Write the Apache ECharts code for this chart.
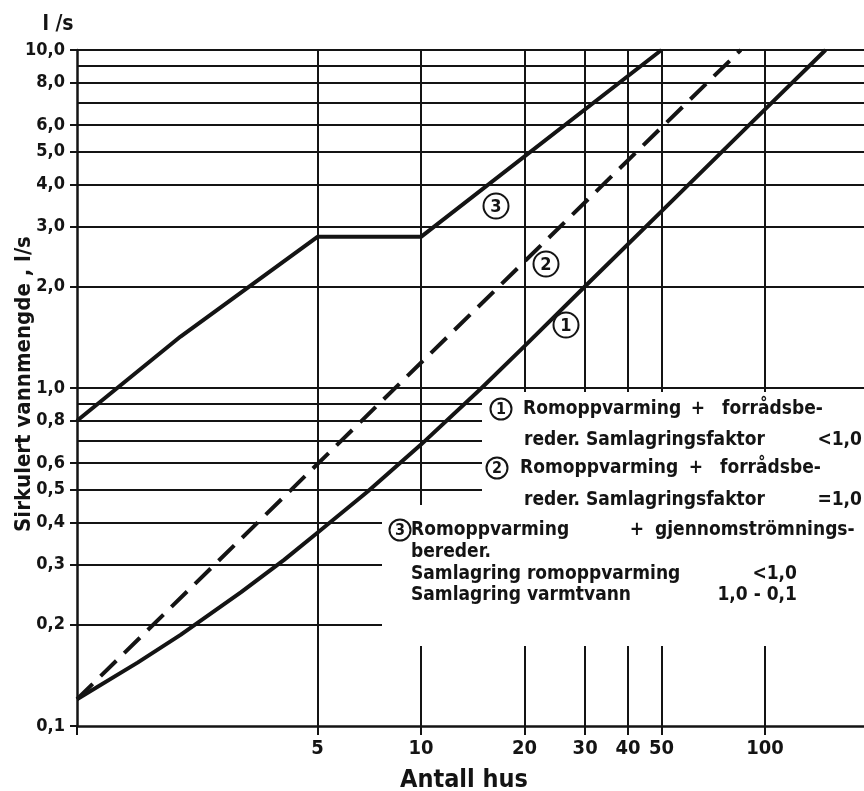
<!DOCTYPE html>
<html>
<head>
<meta charset="utf-8">
<script src="https://cdn.jsdelivr.net/npm/echarts@6/dist/echarts.min.js"></script>
<style>
  html, body { margin: 0; padding: 0; background: #ffffff; }
  #chart { width: 864px; height: 791px; }
</style>
</head>
<body>
<div id="chart"></div>
<script>
// Axis ticks (Antall hus / l/s)
const xTickValues = [1, 5, 10, 20, 30, 40, 50, 100];
const xLabelValues = [5, 10, 20, 30, 40, 50, 100];
const yLabelValues = [0.1, 0.2, 0.3, 0.4, 0.5, 0.6, 0.8, 1, 2, 3, 4, 5, 6, 8, 10];
const xGridValues = [5, 10, 20, 30, 40, 50, 100];
const yGridValues = [0.2, 0.3, 0.4, 0.5, 0.6, 0.7, 0.8, 0.9, 1, 2, 3, 4, 5, 6, 7, 8, 9, 10];

// Curve 1: romoppvarming + forrådsbereder, samlagringsfaktor < 1,0
const curve1 = [[1, 0.12], [1.5, 0.154], [2, 0.186], [3, 0.249], [4, 0.31], [5, 0.373],
                [7, 0.494], [10, 0.68], [15, 1.0], [20, 1.33], [30, 2.0], [50, 3.33],
                [100, 6.67], [150, 10]];
// Curve 2: romoppvarming + forrådsbereder, samlagringsfaktor = 1,0
const curve2 = [[1, 0.12], [85, 10]];
// Curve 3: romoppvarming + gjennomstrømningsbereder
const curve3 = [[1, 0.8], [2, 1.42], [5, 2.8], [10, 2.8], [50, 10]];

const INK = '#141414';
const FONT = '"DejaVu Sans Condensed", "DejaVu Sans", sans-serif';
const fmt = v => v.toFixed(1).replace('.', ',');

function label(x, y, s, size, align) {
  return {
    type: 'text', x: x, y: y, z: 20,
    style: { text: s, fill: INK, font: 'bold ' + size + 'px ' + FONT,
             align: align || 'left', verticalAlign: 'middle' }
  };
}
function ring(cx, cy, r, digit, size) {
  return [
    { type: 'circle', z: 20, shape: { cx: cx, cy: cy, r: r },
      style: { fill: '#ffffff', stroke: INK, lineWidth: 2 } },
    { type: 'text', x: cx, y: cy + 1, z: 21,
      style: { text: digit, fill: INK, font: 'bold ' + size + 'px ' + FONT,
               align: 'center', verticalAlign: 'middle' } }
  ];
}

const graphics = [
  // blank panel behind the explanation text
  { type: 'rect', z: 5, shape: { x: 482, y: 392, width: 382, height: 113 }, style: { fill: '#ffffff' } },
  { type: 'rect', z: 5, shape: { x: 382, y: 505, width: 482, height: 141 }, style: { fill: '#ffffff' } },

  // axis titles
  label(58, 25, 'l /s', 21, 'center'),
  label(464, 780, 'Antall hus', 25, 'center'),
  { type: 'text', x: 24, y: 384, rotation: Math.PI / 2, z: 20,
    style: { text: 'Sirkulert vannmengde , l/s', fill: INK, font: 'bold 22px ' + FONT,
             align: 'center', verticalAlign: 'middle' } },

  // curve markers
  ...ring(496, 206, 12.5, '3', 18),
  ...ring(546, 264, 12.5, '2', 18),
  ...ring(566, 325, 12.5, '1', 18),

  // explanation 1
  ...ring(501, 409, 10.5, '1', 16),
  label(523, 409, 'Romoppvarming', 19),
  label(698, 409, '+', 19, 'center'),
  label(722, 409, 'forrådsbe-', 19),
  label(524, 440, 'reder. Samlagringsfaktor', 19),
  label(862, 440, '<1,0', 19, 'right'),

  // explanation 2
  ...ring(497, 468, 10.5, '2', 16),
  label(520, 468, 'Romoppvarming', 19),
  label(696, 468, '+', 19, 'center'),
  label(720, 468, 'forrådsbe-', 19),
  label(524, 500, 'reder. Samlagringsfaktor', 19),
  label(862, 500, '=1,0', 19, 'right'),

  // explanation 3
  ...ring(400, 530, 10.5, '3', 16),
  label(411, 530, 'Romoppvarming', 19),
  label(637, 530, '+', 19, 'center'),
  label(655, 530, 'gjennomströmnings-', 19),
  label(411, 552, 'bereder.', 19),
  label(411, 574, 'Samlagring romoppvarming', 19),
  label(797, 574, '<1,0', 19, 'right'),
  label(411, 595, 'Samlagring varmtvann', 19),
  label(797, 595, '1,0 - 0,1', 19, 'right')
];

const option = {
  backgroundColor: '#ffffff',
  animation: false,
  grid: { left: 77, top: 50, right: 0, bottom: 65, containLabel: false },
  xAxis: {
    type: 'log', logBase: 10, min: 1, max: 194,
    axisLine: { onZero: false, lineStyle: { color: INK, width: 2.5 } },
    axisTick: { customValues: xTickValues, length: 9, lineStyle: { color: INK, width: 2 } },
    axisLabel: { customValues: xLabelValues, margin: 13, color: INK, fontSize: 20,
                 fontWeight: 'bold', fontFamily: FONT, formatter: v => String(Math.round(v)) },
    splitLine: { show: false },
    minorTick: { show: false }
  },
  yAxis: {
    type: 'log', logBase: 10, min: 0.1, max: 10,
    axisLine: { onZero: false, lineStyle: { color: INK, width: 2.5 } },
    axisTick: { customValues: yLabelValues, length: 7, lineStyle: { color: INK, width: 2 } },
    axisLabel: { customValues: yLabelValues, margin: 12, color: INK, fontSize: 18,
                 fontWeight: 'bold', fontFamily: FONT, formatter: v => fmt(v) },
    splitLine: { show: false },
    minorTick: { show: false }
  },
  series: [
    {
      name: 'grid', type: 'line', data: [], silent: true,
      markLine: {
        silent: true, z: 1, symbol: ['none', 'none'], animation: false,
        label: { show: false },
        lineStyle: { color: INK, width: 2, type: 'solid' },
        emphasis: { disabled: true },
        data: yGridValues.map(v => ({ yAxis: v }))
              .concat(xGridValues.map(v => ({ xAxis: v })))
      }
    },
    {
      name: '1', type: 'line', z: 10, data: curve1, showSymbol: false,
      lineStyle: { color: INK, width: 4, join: 'round' }
    },
    {
      name: '2', type: 'line', z: 10, data: curve2, showSymbol: false,
      lineStyle: { color: INK, width: 4, type: [22, 11] }
    },
    {
      name: '3', type: 'line', z: 10, data: curve3, showSymbol: false,
      lineStyle: { color: INK, width: 4, join: 'round' }
    }
  ],
  graphic: { elements: graphics }
};

const chart = echarts.init(document.getElementById('chart'), null, { renderer: 'canvas' });
chart.setOption(option);
</script>
</body>
</html>
